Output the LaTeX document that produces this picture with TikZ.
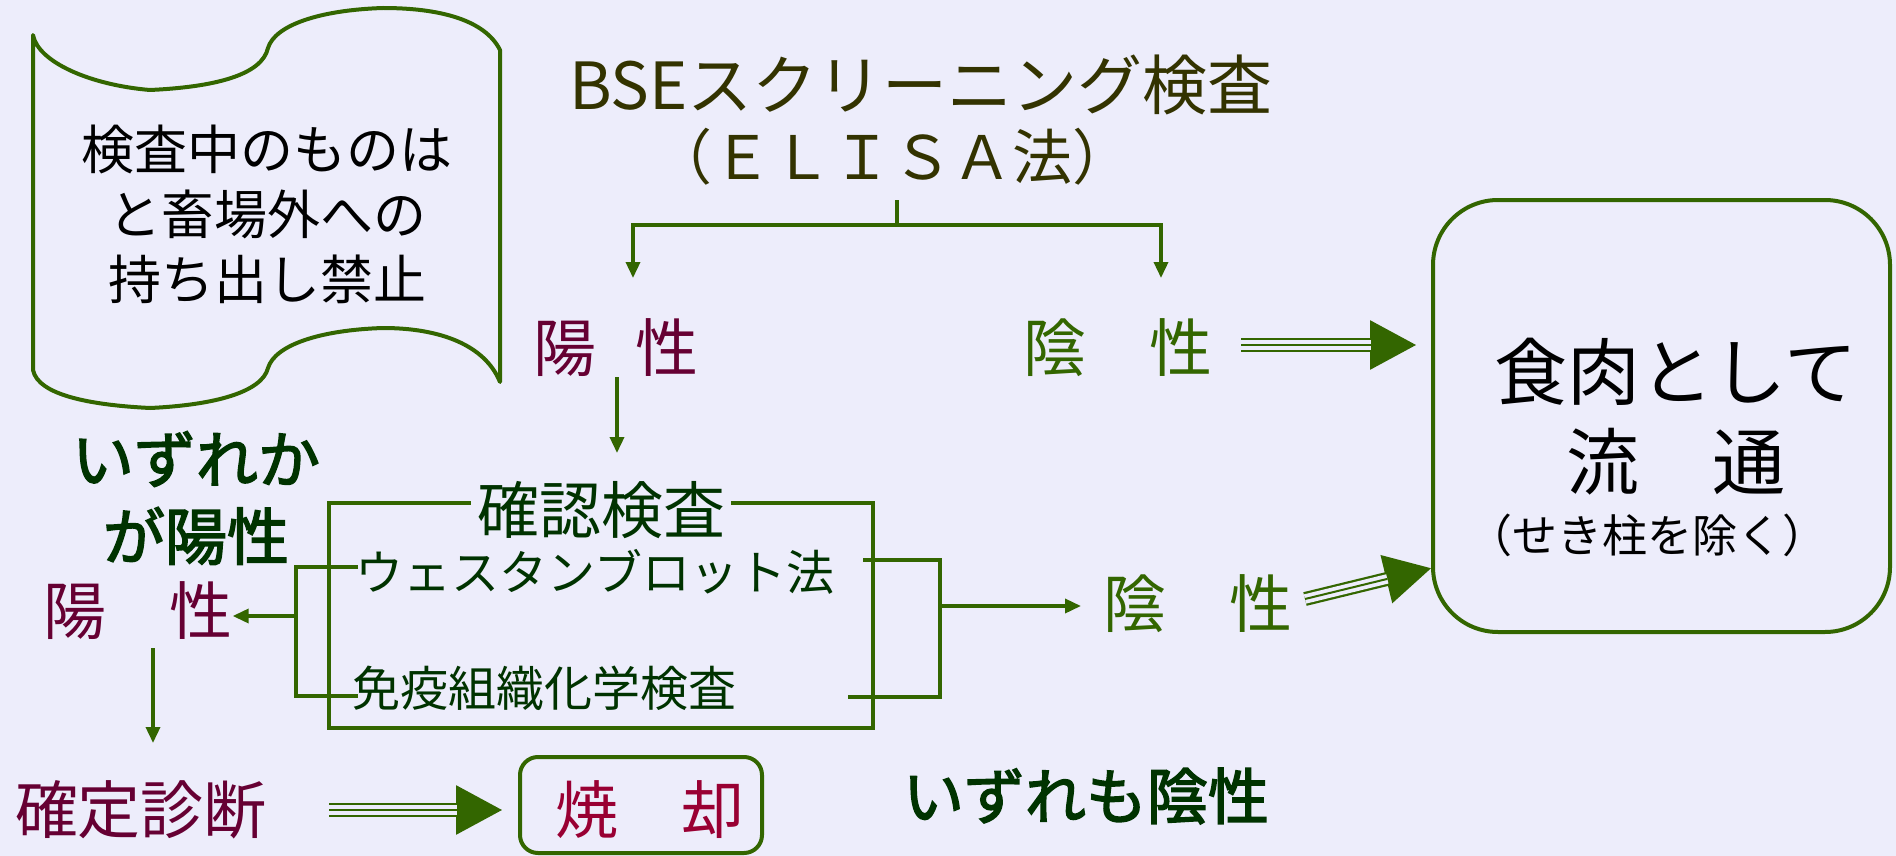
\documentclass[tikz,border=0pt]{standalone}
\usepackage{fontspec}
\newfontfamily\jp{Noto Sans CJK JP}
\newfontfamily\jpm[FakeBold=2.5]{Noto Sans CJK JP}
\usetikzlibrary{arrows.meta}
\definecolor{bgc}{RGB}{237,237,251}
\definecolor{lg}{RGB}{51,102,0}
\definecolor{mar}{RGB}{102,0,51}
\definecolor{redc}{RGB}{153,0,51}
\definecolor{olv}{RGB}{51,51,0}
\definecolor{dg}{RGB}{0,51,0}
\newcommand{\fsz}[2]{\fontsize{#1pt}{#2pt}\selectfont}
\newcommand{\triarrow}[2]{%
  \draw[lg,line width=14pt,-{Triangle[length=47pt,width=46pt]}] (#1) -- (#2);
  \draw[bgc,line width=9.5pt,shorten >=46pt] (#1) -- (#2);
  \draw[lg,line width=2pt,shorten >=46pt] (#1) -- (#2);}
\begin{document}
\begin{tikzpicture}[x=1pt,y=-1pt,
  txt/.style={inner sep=0pt},
  conn/.style={draw=lg,line width=4pt},
  arr/.style={draw=lg,line width=3.5pt,-{Triangle[length=16pt,width=14pt]}},
  boxline/.style={draw=lg,line width=4pt}]
\fill[bgc] (0,0) rectangle (1896,856);
\useasboundingbox (0,0) rectangle (1896,856);

% scroll
\draw[boxline,line join=round]
  (33,35) .. controls (38,62) and (90,85) .. (150,90)
  .. controls (215,87) and (262,75) .. (268,48)
  .. controls (275,25) and (320,10) .. (383,8)
  .. controls (440,8) and (485,20) .. (500,50)
  -- (500,382)
  .. controls (485,345) and (440,328) .. (383,328)
  .. controls (320,330) and (275,345) .. (268,368)
  .. controls (262,392) and (215,405) .. (150,408)
  .. controls (90,405) and (38,395) .. (33,370) -- cycle;
\node[txt,align=center,font=\jp\fsz{53}{65}] (scrolltxt) at (267,214) {検査中のものは\\と畜場外への\\持ち出し禁止};

% title
\node[txt,olv,font=\jp\fsz{65}{70}] (bse) at (921,85) {BSEスクリーニング検査};
\node[txt,olv,font=\jp\fsz{60}{66}] (elisa) at (892,157) {（ＥＬＩＳＡ法）};

% first results
\node[txt,mar,font=\jp\fsz{63}{70}] (pos1) at (616,348) {陽\hspace{39pt}性};
\node[txt,lg,font=\jp\fsz{63}{70}] (neg1) at (1118,348) {陰　性};

\coordinate (stemtop) at (897,200);
\coordinate (split) at (897,225);
\coordinate (tipL) at (633,278);
\coordinate (tipR) at (1161,278);
\draw[conn] (stemtop) -- (split);
\draw[arr] (split) -| (tipL);
\draw[arr] (split) -| (tipR);

% meat box
\node[boxline,rounded corners=65pt,minimum width=457pt,minimum height=432pt,inner sep=0pt] (meat) at (1661.5,416) {};
\node[txt,font=\jp\fsz{73}{80}] (m1) at (1676,372) {食肉として};
\node[txt,font=\jp\fsz{73}{80}] (m2) at (1676,462) {流　通};
\node[txt,font=\jp\fsz{45}{50}] (m3) at (1647,535) {（せき柱を除く）};

\coordinate (t1s) at (1241,345);
\coordinate (t1e) at (1417,345);
\triarrow{t1s}{t1e}

% confirmation box
\node[boxline,minimum width=544pt,minimum height=225pt,inner sep=0pt] (kbox) at (601,615.5) {};
\node[txt,dg,fill=bgc,inner xsep=6pt,font=\jp\fsz{62}{68}] (ktxt) at (601,510) {確認検査};
\node[txt,dg,font=\jp\fsz{48}{54}] (wb) at (595,572) {ウェスタンブロット法};
\node[txt,dg,font=\jp\fsz{48}{54}] (ihc) at (544,688) {免疫組織化学検査};

\coordinate (p1a) at (617,377);
\coordinate (p1b) at (617,453);
\draw[arr] (p1a) -- (p1b);

% left side
\node[txt,dg,align=center,font=\jpm\fsz{62}{77}] (either) at (196,498) {いずれか\\が陽性};
\node[txt,mar,font=\jp\fsz{63}{70}] (pos2) at (138,611) {陽　性};
\coordinate (lb1) at (358,567);
\coordinate (lb2) at (296,567);
\coordinate (lb3) at (296,696);
\coordinate (lb4) at (358,696);
\coordinate (lbm) at (296,616);
\draw[conn] (lb1) -- (lb2) -- (lb3) -- (lb4);
\draw[arr] (lbm) -- (lbm -| pos2.east);

\coordinate (p2a) at (153,648);
\coordinate (p2b) at (153,743);
\draw[arr] (p2a) -- (p2b);

\node[txt,mar,font=\jp\fsz{63}{70}] (kakutei) at (141,810) {確定診断};
\node[boxline,rounded corners=18pt,minimum width=242pt,minimum height=96pt,inner sep=0pt] (burnbox) at (641,805) {};
\node[txt,redc,font=\jp\fsz{63}{70}] (burn) at (650,810) {焼　却};
\coordinate (t2s) at (329,810);
\coordinate (t2e) at (503,810);
\triarrow{t2s}{t2e}

% right bracket
\coordinate (rb1) at (863,560);
\coordinate (rb2) at (940,560);
\coordinate (rb3) at (940,697);
\coordinate (rb4) at (848,697);
\coordinate (rbm) at (940,606);
\draw[conn] (rb1) -- (rb2) -- (rb3) -- (rb4);
\node[txt,lg,font=\jp\fsz{63}{70}] (neg2) at (1197.5,604) {陰　性};
\draw[arr] (rbm) -- (rbm -| 1081,0);

\coordinate (t3s) at (1305,599);
\coordinate (t3e) at (1432,568);
\triarrow{t3s}{t3e}

\node[txt,dg,font=\jpm\fsz{61}{68}] (allneg) at (1086,796) {いずれも陰性};
\end{tikzpicture}
\end{document}
